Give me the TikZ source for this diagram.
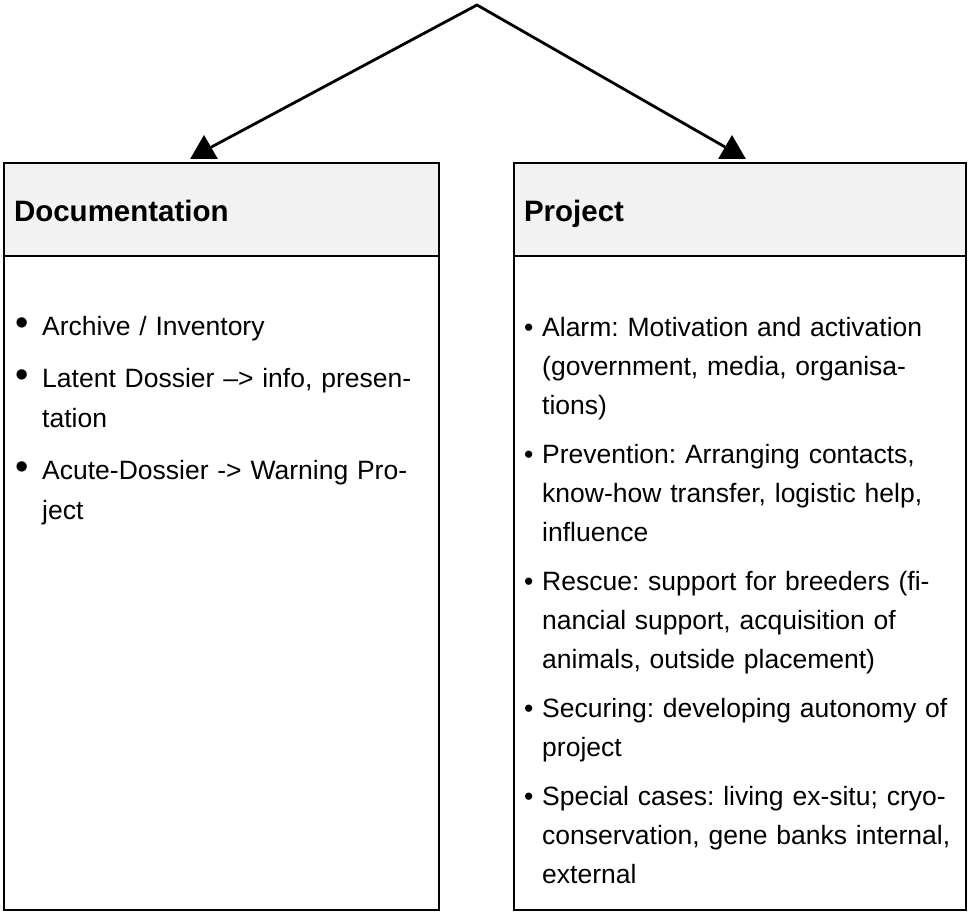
\documentclass[tikz,border=0pt]{standalone}
\usepackage{fontspec}
\setmainfont{Liberation Sans}
\usetikzlibrary{calc,positioning,shapes.geometric}
\definecolor{headgray}{HTML}{F2F2F2}
\frenchspacing
\newcommand{\docbullet}{\llap{{\fontsize{38}{38}\selectfont\textbullet}\hspace{13pt}}}
\newcommand{\projbullet}{\llap{\textbullet\ }}
\tikzset{
%Define units (one unit is one pixel of the sketch)
x=1pt, y=1pt,
%Define style for the boxes
box/.style={draw, rectangle, line width=2.8pt, inner sep=0pt, outer sep=0pt},
head/.style={box, fill=headgray, minimum height=93pt, inner xsep=10pt, align=left,
  text height=25pt, text depth=0pt, font=\fontsize{29.5}{35}\selectfont\bfseries},
body/.style={box, fill=white, minimum height=654pt},
%Define style for the list entries
entry/.style={anchor=base west, inner sep=0pt, align=left, text width=425pt,
  font=\fontsize{26.5}{#1}\selectfont},
%Define the tips and lines of the connectors
tip/.style={regular polygon, regular polygon sides=3, fill=black, inner sep=0pt,
  outer sep=0pt, minimum size=32pt},
connection/.style={line width=2.8pt, line join=miter},
}

\begin{document}
\begin{tikzpicture}
\useasboundingbox (0,0) rectangle (968,912);
% Draw the two boxes with their headers
\node[head, text width=415pt, anchor=north west] (dochead) at (4,749) {Documentation};
\node[body, minimum width=435pt, below=0pt of dochead] (docbody) {};
\node[head, text width=432pt, anchor=north west] (projhead) at (514,749) {Project};
\node[body, minimum width=452pt, below=0pt of projhead] (projbody) {};
% Draw the split from the top down to both boxes
\coordinate (top) at (477,907);
\node[tip] (tipL) at (204,761) {};
\node[tip] (tipR) at (732,761) {};
\draw[connection] (tipL) -- (top) -- (tipR);
% Fill in the left list
\node[entry=40] (doc1) at (42,576) {\docbullet Archive / Inventory};
\node[entry=40] (doc2) at (42,524) {\docbullet Latent Dossier –> info, presen-\\tation};
\node[entry=40] (doc3) at (42,432) {\docbullet Acute-Dossier -> Warning Pro-\\ject};
% Fill in the right list
\node[entry=39] (proj1) at (542,575) {\projbullet Alarm: Motivation and activation\\(government, media, organisa-\\tions)};
\node[entry=39] (proj2) at (542,448) {\projbullet Prevention: Arranging contacts,\\know-how transfer, logistic help,\\influence};
\node[entry=39] (proj3) at (542,321) {\projbullet Rescue: support for breeders (fi-\\nancial support, acquisition of\\animals, outside placement)};
\node[entry=39] (proj4) at (542,194) {\projbullet Securing: developing autonomy of\\project};
\node[entry=39] (proj5) at (542,106) {\projbullet Special cases: living ex-situ; cryo-\\conservation, gene banks internal,\\external};
\end{tikzpicture}
\end{document}
